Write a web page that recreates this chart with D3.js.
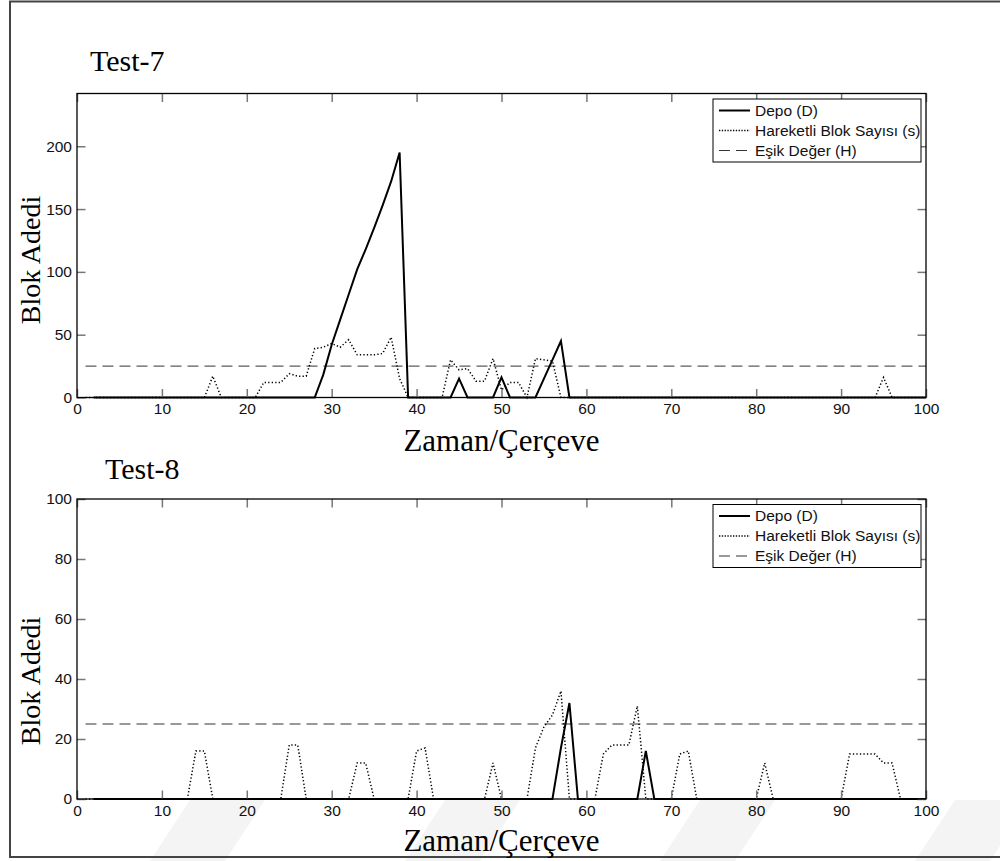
<!DOCTYPE html>
<html>
<head>
<meta charset="utf-8">
<script src="https://cdn.jsdelivr.net/npm/d3@7/dist/d3.min.js"></script>
<style>
  html, body { margin: 0; padding: 0; background: #fff; }
  svg { display: block; }
  .tick-label { font-family: "Liberation Sans", Arial, sans-serif; font-size: 15.5px; fill: #111; }
  .serif { font-family: "Liberation Serif", "Times New Roman", serif; fill: #000; }
</style>
</head>
<body>
<svg id="chart" width="1000" height="861"></svg>
<script>
// frames 0..100 (null = not plotted)
const frames = d3.range(0, 101)
const threshold = 25
const legendLabels = ['Depo (D)', 'Hareketli Blok Sayısı (s)', 'Eşik Değer (H)']

// Test-7
const depo7 = [
  null, null, 0, 0, 0, 0, 0, 0, 0, 0,
  0, 0, 0, 0, 0, 0, 0, 0, 0, 0,
  0, 0, 0, 0, 0, 0, 0, 0, 0, 18,
  42, 62, 82, 102, 118, 135, 153, 172, 195, 0,
  0, 0, 0, 0, 0, 15, 0, 0, 0, 0,
  16, 0, 0, 0, 0, 15, 30, 45, 0, 0,
  0, 0, 0, 0, 0, 0, 0, 0, 0, 0,
  0, 0, 0, 0, 0, 0, 0, 0, 0, 0,
  0, 0, 0, 0, 0, 0, 0, 0, 0, 0,
  0, 0, 0, 0, 0, 0, 0, 0, 0, 0,
  0
]
const moving7 = [
  null, 0, 0, 0, 0, 0, 0, 0, 0, 0,
  0, 0, 0, 0, 0, 0, 17, 0, 0, 0,
  0, 0, 12, 12, 12, 19, 17, 17, 39, 40,
  43, 40, 46, 34, 34, 34, 35, 48, 15, 0,
  0, 0, 0, 0, 30, 22, 23, 13, 13, 31,
  6, 12, 12, 0, 31, 30, 29, 0, 0, 0,
  0, 0, 0, 0, 0, 0, 0, 0, 0, 0,
  0, 0, 0, 0, 0, 0, 0, 0, 0, 0,
  0, 0, 0, 0, 0, 0, 0, 0, 0, 0,
  0, 0, 0, 0, 0, 16, 0, 0, 0, 0,
  0
]

// Test-8
const depo8 = [
  null, null, 0, 0, 0, 0, 0, 0, 0, 0,
  0, 0, 0, 0, 0, 0, 0, 0, 0, 0,
  0, 0, 0, 0, 0, 0, 0, 0, 0, 0,
  0, 0, 0, 0, 0, 0, 0, 0, 0, 0,
  0, 0, 0, 0, 0, 0, 0, 0, 0, 0,
  0, 0, 0, 0, 0, 0, 0, 17, 32, 0,
  0, 0, 0, 0, 0, 0, 0, 16, 0, 0,
  0, 0, 0, 0, 0, 0, 0, 0, 0, 0,
  0, 0, 0, 0, 0, 0, 0, 0, 0, 0,
  0, 0, 0, 0, 0, 0, 0, 0, 0, 0,
  0
]
const moving8 = [
  null, 0, 0, 0, 0, 0, 0, 0, 0, 0,
  0, 0, 0, 0, 16, 16, 0, 0, 0, 0,
  0, 0, 0, 0, 0, 18, 18, 0, 0, 0,
  0, 0, 0, 12, 12, 0, 0, 0, 0, 0,
  16, 17, 0, 0, 0, 0, 0, 0, 0, 12,
  0, 0, 0, 0, 17, 24, 28, 36, 0, 0,
  0, 0, 15, 18, 18, 18, 31, 0, 0, 0,
  0, 15, 16, 0, 0, 0, 0, 0, 0, 0,
  0, 12, 0, 0, 0, 0, 0, 0, 0, 0,
  0, 15, 15, 15, 15, 12, 12, 0, 0, 0,
  0
]

const xTicks = d3.range(0, 101, 10)
const yTicks7 = [0, 50, 100, 150, 200]
const yTicks8 = [0, 20, 40, 60, 80, 100]

const svg = d3.select('#chart')

// faint background watermark bands
const bands = [[150, 225], [405, 480], [660, 735], [915, 990]]
svg.append('g').selectAll('polygon').data(bands).join('polygon')
  .attr('points', d => `${d[0] + 40},800 ${d[1] + 40},800 ${d[1]},861 ${d[0]},861`)
  .attr('fill', '#f4f4f4')

// outer frame
svg.append('path')
  .attr('d', 'M1002,1.5 H10 V857 H1002')
  .attr('fill', 'none').attr('stroke', '#444').attr('stroke-width', 2)

function drawPanel(opts) {
  const { left, right, top, bottom, yMax, yTicks, depo, moving, title } = opts
  const x = d3.scaleLinear().domain([0, 100]).range([left, right])
  const y = d3.scaleLinear().domain([0, yMax]).range([bottom, top])
  const g = svg.append('g')

  const line = d3.line()
    .defined(d => d[1] !== null)
    .x(d => x(d[0])).y(d => y(d[1]))

  // threshold
  g.append('path')
    .datum([[1, threshold], [100, threshold]])
    .attr('d', line)
    .attr('fill', 'none').attr('stroke', '#333').attr('stroke-width', 1)
    .attr('stroke-dasharray', '11,6')

  g.append('path')
    .datum(frames.map((f, i) => [f, moving[i]]))
    .attr('d', line)
    .attr('fill', 'none').attr('stroke', '#000').attr('stroke-width', 1.5)
    .attr('stroke-dasharray', '1.3,2.2')

  g.append('path')
    .datum(frames.map((f, i) => [f, depo[i]]))
    .attr('d', line)
    .attr('fill', 'none').attr('stroke', '#000').attr('stroke-width', 2)
    .attr('stroke-linejoin', 'miter')

  // axes with inward ticks on all four sides
  const tl = 8.5
  const axB = d3.axisBottom(x).tickValues(xTicks).tickSizeInner(-tl).tickSizeOuter(0).tickPadding(5.5)
  const axT = d3.axisTop(x).tickValues(xTicks).tickSizeInner(-tl).tickSizeOuter(0).tickFormat('')
  const axL = d3.axisLeft(y).tickValues(yTicks).tickSizeInner(-tl).tickSizeOuter(0).tickPadding(5)
  const axR = d3.axisRight(y).tickValues(yTicks).tickSizeInner(-tl).tickSizeOuter(0).tickFormat('')

  const styleAxis = sel => {
    sel.select('.domain').remove()
    sel.selectAll('.tick line').attr('stroke', '#777').attr('stroke-width', 1.5)
    sel.selectAll('.tick text').attr('class', 'tick-label').attr('fill', '#111')
  }
  g.append('g').attr('transform', `translate(0,${bottom})`).call(axB).call(styleAxis)
  g.append('g').attr('transform', `translate(0,${top})`).call(axT).call(styleAxis)
  g.append('g').attr('transform', `translate(${left},0)`).call(axL).call(styleAxis)
  g.append('g').attr('transform', `translate(${right},0)`).call(axR).call(styleAxis)

  g.append('rect')
    .attr('x', left).attr('y', top).attr('width', right - left).attr('height', bottom - top)
    .attr('fill', 'none').attr('stroke', '#000').attr('stroke-width', 1.3)

  // legend
  const lx = right - 213, ly = top + 5.5
  const lg = g.append('g').attr('transform', `translate(${lx},${ly})`)
  lg.append('rect').attr('width', 208).attr('height', 63)
    .attr('fill', '#fff').attr('stroke', '#000').attr('stroke-width', 1)
  const styles = [
    { w: 2, dash: null, c: '#000' },
    { w: 1.3, dash: '1.3,1.5', c: '#000' },
    { w: 1, dash: '11,6', c: '#333' }
  ]
  legendLabels.forEach((lab, i) => {
    const cy = 11.5 + i * 20
    lg.append('line').attr('x1', 6).attr('x2', 37).attr('y1', cy).attr('y2', cy)
      .attr('stroke', styles[i].c).attr('stroke-width', styles[i].w)
      .attr('stroke-dasharray', styles[i].dash)
    lg.append('text').attr('class', 'tick-label').attr('x', 42).attr('y', cy + 5).text(lab)
  })

  // labels
  svg.append('text').attr('class', 'serif').attr('font-size', 30)
    .attr('x', opts.titleX).attr('y', opts.titleY).text(title)
  svg.append('text').attr('class', 'serif').attr('font-size', 31)
    .attr('text-anchor', 'middle').attr('x', (left + right) / 2).attr('y', opts.xLabelY)
    .text('Zaman/Çerçeve')
  svg.append('text').attr('class', 'serif').attr('font-size', 28)
    .attr('text-anchor', 'middle')
    .attr('transform', `translate(40,${opts.yLabelY}) rotate(-90)`)
    .text('Blok Adedi')
}

drawPanel({
  left: 77, right: 926, top: 93.5, bottom: 397.5, yMax: 242, yTicks: yTicks7,
  depo: depo7, moving: moving7, title: 'Test-7',
  titleX: 90, titleY: 71, xLabelY: 451, yLabelY: 260
})
drawPanel({
  left: 77, right: 926, top: 499, bottom: 799, yMax: 100, yTicks: yTicks8,
  depo: depo8, moving: moving8, title: 'Test-8',
  titleX: 105, titleY: 479, xLabelY: 851, yLabelY: 681
})
</script>
</body>
</html>
